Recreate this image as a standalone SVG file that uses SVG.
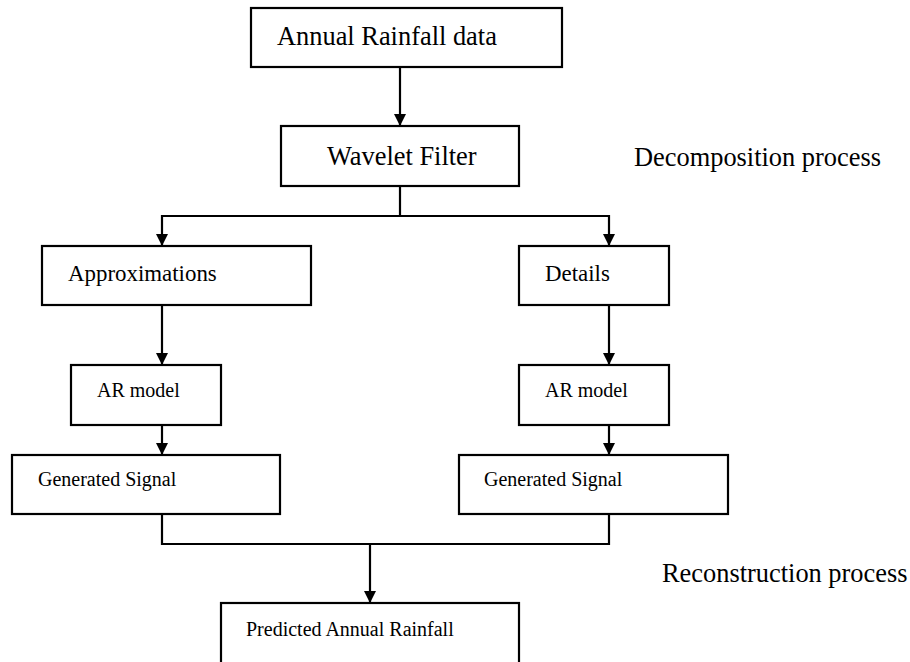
<svg xmlns="http://www.w3.org/2000/svg" width="910" height="662" viewBox="0 0 910 662">
<style>
.box{fill:#fff;stroke:#000;stroke-width:2.2}
.c{fill:none;stroke:#000;stroke-width:2.2}
.t26{font-size:26.4px}
.t23{font-size:22.9px}
.t20{font-size:20px}
</style>
<defs>
<marker id="ah" markerUnits="userSpaceOnUse" markerWidth="12" markerHeight="12" viewBox="0 0 12 12" refX="12" refY="6" orient="auto">
<path d="M0,0 L12,6 L0,12 Z" fill="#000"/>
</marker>
</defs>
<rect width="910" height="662" fill="#fff"/>
<g id="connectors">
<line class="c" x1="400" y1="67" x2="400" y2="126" marker-end="url(#ah)"/>
<polyline class="c" points="400,186 400,216 162,216 162,246" marker-end="url(#ah)"/>
<polyline class="c" points="400,216 609,216 609,246" marker-end="url(#ah)"/>
<line class="c" x1="162" y1="305" x2="162" y2="365" marker-end="url(#ah)"/>
<line class="c" x1="609" y1="305" x2="609" y2="365" marker-end="url(#ah)"/>
<line class="c" x1="162" y1="425" x2="162" y2="455" marker-end="url(#ah)"/>
<line class="c" x1="609" y1="425" x2="609" y2="455" marker-end="url(#ah)"/>
<polyline class="c" points="162,514 162,544 609,544 609,514"/>
<line class="c" x1="370" y1="544" x2="370" y2="603" marker-end="url(#ah)"/>
</g>
<g font-family="Liberation Serif, Times New Roman, serif" fill="#000">
<g id="n-data"><rect class="box" x="251" y="8" width="311" height="59"/><text class="t26" x="277" y="45">Annual Rainfall data</text></g>
<g id="n-wavelet"><rect class="box" x="281" y="126" width="238" height="60"/><text class="t26" x="327" y="165">Wavelet Filter</text></g>
<g id="l-decomp"><text class="t26" x="634" y="166">Decomposition process</text></g>
<g id="n-approx"><rect class="box" x="42" y="246" width="269" height="59"/><text class="t23" x="68" y="281">Approximations</text></g>
<g id="n-details"><rect class="box" x="519" y="246" width="150" height="59"/><text class="t23" x="545" y="281">Details</text></g>
<g id="n-ar1"><rect class="box" x="71" y="365" width="150" height="60"/><text class="t20" x="97" y="397">AR model</text></g>
<g id="n-ar2"><rect class="box" x="519" y="365" width="150" height="60"/><text class="t20" x="545" y="397">AR model</text></g>
<g id="n-gen1"><rect class="box" x="12" y="455" width="268" height="59"/><text class="t20" x="38" y="486">Generated Signal</text></g>
<g id="n-gen2"><rect class="box" x="459" y="455" width="269" height="59"/><text class="t20" x="484" y="486">Generated Signal</text></g>
<g id="l-recon"><text class="t26" x="662" y="582">Reconstruction process</text></g>
<g id="n-pred"><rect class="box" x="221" y="603" width="298" height="70"/><text class="t20" x="246" y="636">Predicted Annual Rainfall</text></g>
</g>
</svg>
